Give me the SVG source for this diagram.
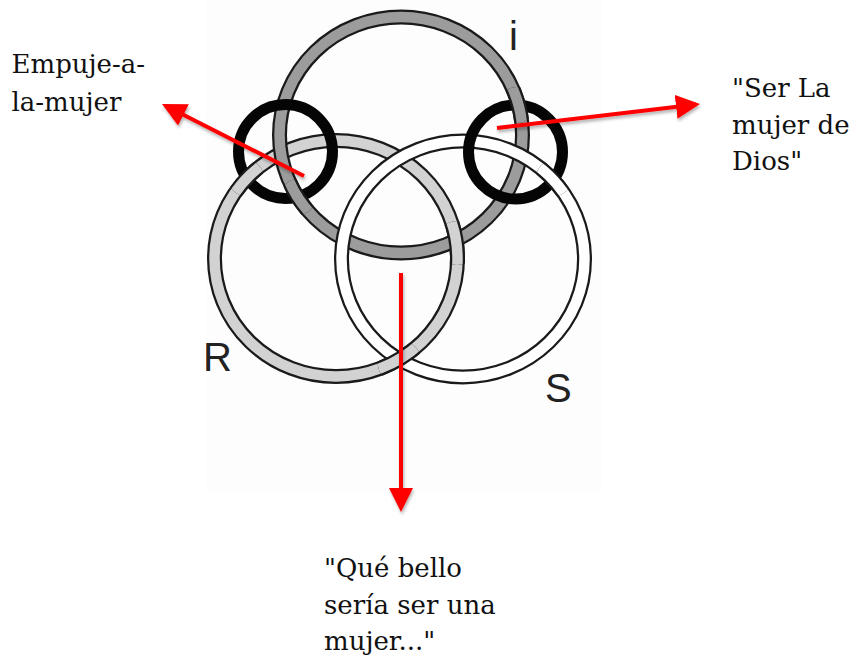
<svg xmlns="http://www.w3.org/2000/svg" xmlns:xlink="http://www.w3.org/1999/xlink" width="856" height="660" viewBox="0 0 856 660">
<style>
.edge{stroke:#1a1a1a;stroke-width:15;fill:none}
.fI{stroke:#9c9c9c;stroke-width:10.5;fill:none}
.fR{stroke:#d2d2d2;stroke-width:10.5;fill:none}
.fS{stroke:#ffffff;stroke-width:10.5;fill:none}
.blk{stroke:#050505;stroke-width:11;fill:none}
.lab{font-family:"Liberation Sans",Arial,sans-serif;font-size:40px;fill:#222}
.txt{font-family:"DejaVu Serif","Liberation Serif",serif;font-size:26px;fill:#111}
.arrow{stroke:#ff0000;stroke-width:4;fill:none;marker-end:url(#ah);filter:url(#sh)}
</style>
<defs>
<g id="bandI"><ellipse cx="401" cy="135" rx="121.5" ry="118" class="edge"/><ellipse cx="401" cy="135" rx="121.5" ry="118" class="fI"/></g>
<g id="bandR"><ellipse cx="336" cy="258.5" rx="121.5" ry="118" class="edge"/><ellipse cx="336" cy="258.5" rx="121.5" ry="118" class="fR"/></g>
<g id="bandS"><ellipse cx="463" cy="259" rx="121.5" ry="118" class="edge"/><ellipse cx="463" cy="259" rx="121.5" ry="118" class="fS"/></g>
<clipPath id="cIR2"><circle cx="457" cy="243" r="22"/></clipPath>
<clipPath id="cRS2"><circle cx="399.5" cy="362" r="22"/></clipPath>
<clipPath id="cIL"><circle cx="298" cy="197" r="18"/></clipPath>
<clipPath id="cRL"><circle cx="246" cy="178" r="18"/></clipPath>
<clipPath id="cIRt"><circle cx="517" cy="105" r="18"/></clipPath>
<clipPath id="cSR"><circle cx="554" cy="178" r="18"/></clipPath>
<marker id="ah" markerUnits="userSpaceOnUse" markerWidth="24" markerHeight="24" viewBox="0 0 24 24" refX="20" refY="12" orient="auto">
<path d="M0,0 L24,12 L0,24 z" fill="#ff0000"/>
</marker>
<filter id="sh" filterUnits="userSpaceOnUse" x="0" y="0" width="856" height="660">
<feDropShadow dx="1" dy="2.5" stdDeviation="1.5" flood-color="#000" flood-opacity="0.3"/>
</filter>
</defs>

<rect x="206" y="0" width="396" height="492" fill="#fdfdfd"/>

<g id="ring-R"><use xlink:href="#bandR"/></g>
<g id="ring-I"><use xlink:href="#bandI"/></g>
<g id="ring-S"><use xlink:href="#bandS"/></g>
<g id="black-left"><circle cx="285.5" cy="151.5" r="47" class="blk"/></g>
<g id="black-right"><circle cx="515.5" cy="152" r="47" class="blk"/></g>

<g id="crossings">
<use xlink:href="#bandR" clip-path="url(#cIR2)"/>
<use xlink:href="#bandR" clip-path="url(#cRS2)"/>
<use xlink:href="#bandI" clip-path="url(#cIL)"/>
<use xlink:href="#bandR" clip-path="url(#cRL)"/>
<use xlink:href="#bandI" clip-path="url(#cIRt)"/>
<use xlink:href="#bandS" clip-path="url(#cSR)"/>
</g>

<g id="labels">
<text class="lab" x="509" y="50">i</text>
<text class="lab" x="203" y="371">R</text>
<text class="lab" x="545" y="402">S</text>
</g>

<g id="text-left"><text class="txt" x="11.5" y="73">Empuje-a-</text><text class="txt" x="11.5" y="111">la-mujer</text></g>
<g id="text-right"><text class="txt" x="732" y="97">"Ser La</text><text class="txt" x="732" y="134">mujer de</text><text class="txt" x="732" y="170">Dios"</text></g>
<g id="text-bottom"><text class="txt" x="324" y="577">"Qué bello</text><text class="txt" x="324" y="614">sería ser una</text><text class="txt" x="324" y="650">mujer..."</text></g>

<g id="connectors">
<line class="arrow" x1="304" y1="176" x2="165.6" y2="105.8"/>
<line class="arrow" x1="497" y1="128" x2="696" y2="104.5"/>
<line class="arrow" x1="401" y1="273" x2="401" y2="508"/>
</g>
</svg>
